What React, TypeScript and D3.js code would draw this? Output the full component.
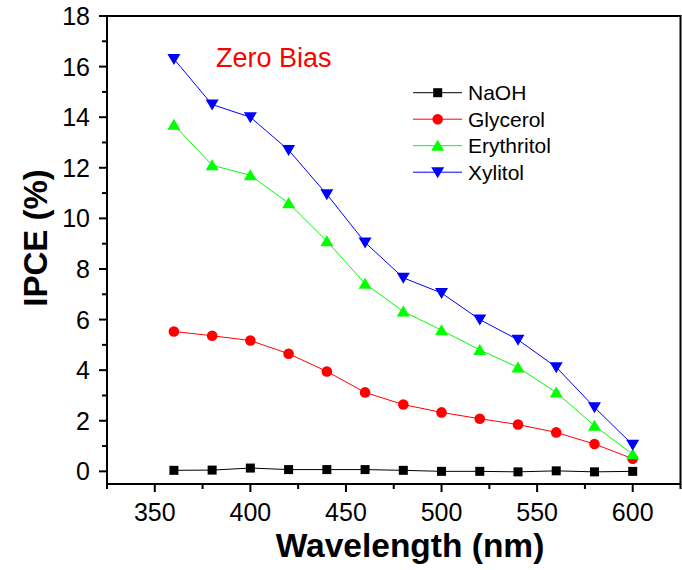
import React from 'react'
import * as d3 from 'd3'

const WIDTH = 682
const HEIGHT = 570
const LEFT = 107
const RIGHT = 680.5
const TOP = 16
const BOTTOM = 484

const wavelengths = [360, 380, 400, 420, 440, 460, 480, 500, 520, 540, 560, 580, 600]
const naoh = [0.04, 0.05, 0.13, 0.07, 0.07, 0.07, 0.04, 0.0, 0.0, -0.02, 0.02, -0.02, 0.0]
const glycerol = [5.53, 5.36, 5.17, 4.65, 3.95, 3.12, 2.64, 2.33, 2.08, 1.85, 1.54, 1.08, 0.5]
const erythritol = [13.7, 12.1, 11.7, 10.6, 9.1, 7.42, 6.32, 5.58, 4.8, 4.11, 3.12, 1.8, 0.68]
const xylitol = [16.3, 14.5, 14.0, 12.7, 10.95, 9.05, 7.65, 7.05, 6.0, 5.2, 4.12, 2.53, 1.05]

const xTicks = [350, 400, 450, 500, 550, 600]
const xMinor = [325, 375, 425, 475, 525, 575, 625]
const yTicks = [0, 2, 4, 6, 8, 10, 12, 14, 16, 18]
const yMinor = [1, 3, 5, 7, 9, 11, 13, 15, 17]

const series = [
  { name: 'NaOH', values: naoh, color: '#000000', marker: 'square' },
  { name: 'Glycerol', values: glycerol, color: '#ff0000', marker: 'circle' },
  { name: 'Erythritol', values: erythritol, color: '#00ff00', marker: 'up' },
  { name: 'Xylitol', values: xylitol, color: '#0000ff', marker: 'down' },
]

const FONT = 'Arial, "Liberation Sans", Helvetica, sans-serif'

function Marker({ type, x, y, color }: { type: string; x: number; y: number; color: string }) {
  if (type === 'square') return <rect x={x - 4.5} y={y - 4.5} width={9} height={9} fill={color} />
  if (type === 'circle') return <circle cx={x} cy={y} r={5.3} fill={color} />
  if (type === 'up') return <path d={`M${x},${y - 6} L${x + 6.5},${y + 5} L${x - 6.5},${y + 5} Z`} fill={color} />
  return <path d={`M${x},${y + 6} L${x + 6.5},${y - 5} L${x - 6.5},${y - 5} Z`} fill={color} />
}

export default function App() {
  const x = d3.scaleLinear().domain([325, 625]).range([LEFT, RIGHT])
  const y = d3.scaleLinear().domain([-0.5, 18]).range([BOTTOM, TOP])

  const line = d3.line<number>()
    .x((_, i) => x(wavelengths[i]))
    .y(d => y(d))

  return (
    <svg width={WIDTH} height={HEIGHT} style={{ position: 'absolute', left: 0, top: 0, background: '#fff' }}
      fontFamily={FONT}>
      {/* frame */}
      <rect x={LEFT} y={TOP} width={RIGHT - LEFT} height={BOTTOM - TOP} fill="none" stroke="#000" strokeWidth={2} />

      {/* y axis ticks */}
      {yTicks.map(t => (
        <g key={'y' + t}>
          <line x1={LEFT - 8} x2={LEFT} y1={y(t)} y2={y(t)} stroke="#000" strokeWidth={2} />
          <text x={LEFT - 17} y={y(t)} dy="0.36em" textAnchor="end" fontSize={25}>{t}</text>
        </g>
      ))}
      {yMinor.map(t => (
        <line key={'ym' + t} x1={LEFT - 5} x2={LEFT} y1={y(t)} y2={y(t)} stroke="#000" strokeWidth={2} />
      ))}

      {/* x axis ticks */}
      {xTicks.map(t => (
        <g key={'x' + t}>
          <line x1={x(t)} x2={x(t)} y1={BOTTOM} y2={BOTTOM + 8} stroke="#000" strokeWidth={2} />
          <text x={x(t)} y={521} textAnchor="middle" fontSize={25}>{t}</text>
        </g>
      ))}
      {xMinor.map(t => (
        <line key={'xm' + t} x1={x(t)} x2={x(t)} y1={BOTTOM} y2={BOTTOM + 5} stroke="#000" strokeWidth={2} />
      ))}

      {/* axis titles */}
      <text x={410} y={557} textAnchor="middle" fontSize={33.5} fontWeight="bold">Wavelength (nm)</text>
      <text transform={`translate(47, ${238}) rotate(-90)`} textAnchor="middle" fontSize={33} fontWeight="bold">IPCE (%)</text>

      {/* series */}
      {series.map(s => (
        <g key={s.name}>
          <path d={line(s.values) || ''} fill="none" stroke={s.color} strokeWidth={1} />
          {s.values.map((v, i) => (
            <Marker key={i} type={s.marker} x={x(wavelengths[i])} y={y(v)} color={s.color} />
          ))}
        </g>
      ))}

      <text x={216} y={67} fontSize={27} fill="#ff0000">Zero Bias</text>

      {/* legend */}
      {series.map((s, i) => {
        const ly = 92.7 + i * 26.5
        return (
          <g key={'lg' + s.name}>
            <line x1={413} x2={462} y1={ly} y2={ly} stroke={s.color} strokeWidth={1} />
            <Marker type={s.marker} x={437.7} y={ly} color={s.color} />
            <text x={468} y={ly} dy="0.36em" fontSize={21}>{s.name}</text>
          </g>
        )
      })}
    </svg>
  )
}
